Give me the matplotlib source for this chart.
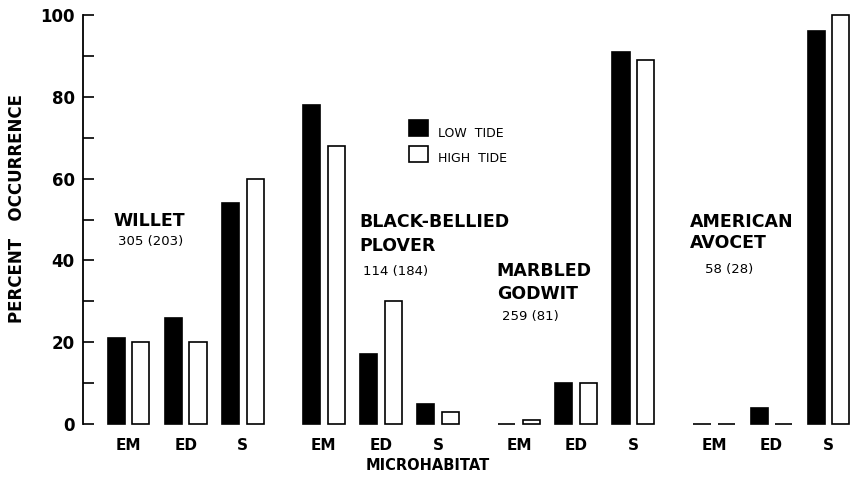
import numpy as np
import matplotlib.pyplot as plt

species_line1 = ['WILLET', 'BLACK-BELLIED', 'MARBLED', 'AMERICAN']
species_line2 = ['', 'PLOVER', 'GODWIT', 'AVOCET']
sample_sizes = ['305 (203)', '114 (184)', '259 (81)', '58 (28)']
habitats = ['EM', 'ED', 'S']

# percent occurrence, per species: EM, ED, S
low_tide = [[21, 26, 54],
            [78, 17, 5],
            [0, 10, 91],
            [0, 4, 96]]
high_tide = [[20, 20, 60],
             [68, 30, 3],
             [1, 10, 89],
             [0, 0, 100]]

spacing = 3.42
off = 0.215
w = 0.3

fig = plt.figure(figsize=(8.53, 4.97), dpi=100)
ax = fig.add_axes([0.0973, 0.1469, 0.9027, 0.8229])

xs = []
for i in range(len(species_line1)):
    for j in range(len(habitats)):
        x = i * spacing + j
        xs.append(x)
        ax.bar(x - off, low_tide[i][j], w, color='black', edgecolor='black', lw=1.2, clip_on=False)
        ax.bar(x + off, high_tide[i][j], w, color='white', edgecolor='black', lw=1.2, clip_on=False)

ax.set_xlim(-0.8, 3 * spacing + 2 + 0.43)
ax.set_ylim(0, 100)

for s in ['top', 'right', 'bottom']:
    ax.spines[s].set_visible(False)
ax.spines['left'].set_linewidth(1.3)

ax.set_yticks(np.arange(0, 101, 20))
ax.set_yticks(np.arange(10, 100, 20), minor=True)
ax.tick_params(axis='y', which='both', direction='in', length=8, width=1.2, labelsize=12, pad=6)
for t in ax.get_yticklabels():
    t.set_fontweight('bold')

ax.set_xticks(xs)
ax.set_xticklabels(habitats * len(species_line1), fontsize=11, fontweight='bold')
ax.tick_params(axis='x', length=0, pad=10)

fig.text(428 / 853, 1 - 466 / 497, 'MICROHABITAT', fontsize=10.5, fontweight='bold',
         ha='center', va='center')
fig.text(17 / 853, 1 - 208 / 497, 'PERCENT   OCCURRENCE', fontsize=12, fontweight='bold',
         ha='center', va='center', rotation=90)

# species labels (data coords)
line1_pos = [(-0.27, 49.6), (4.05, 49.4), (6.45, 37.4), (9.83, 49.4)]
line2_y = [None, 43.5, 31.8, 44.3]
count_pos = [(-0.19, 44.5), (4.1, 37.4), (6.54, 26.2), (10.1, 37.7)]
for i in range(len(species_line1)):
    ax.text(line1_pos[i][0], line1_pos[i][1], species_line1[i], fontsize=12.5, fontweight='bold',
            ha='left', va='center', zorder=5)
    if species_line2[i]:
        ax.text(line1_pos[i][0], line2_y[i], species_line2[i], fontsize=12.5, fontweight='bold',
                ha='left', va='center', zorder=5)
    ax.text(count_pos[i][0], count_pos[i][1], sample_sizes[i], fontsize=9.5, ha='left', va='center',
            zorder=5)

# legend
ax.bar(5.08, 3.9, 0.33, bottom=70.4, color='black', edgecolor='black', lw=1.2)
ax.bar(5.08, 3.9, 0.33, bottom=64.1, color='white', edgecolor='black', lw=1.2)
ax.text(5.42, 71.1, 'LOW  TIDE', fontsize=9, va='center')
ax.text(5.42, 65.0, 'HIGH  TIDE', fontsize=9, va='center')

fig.savefig('out.png', dpi=100)
